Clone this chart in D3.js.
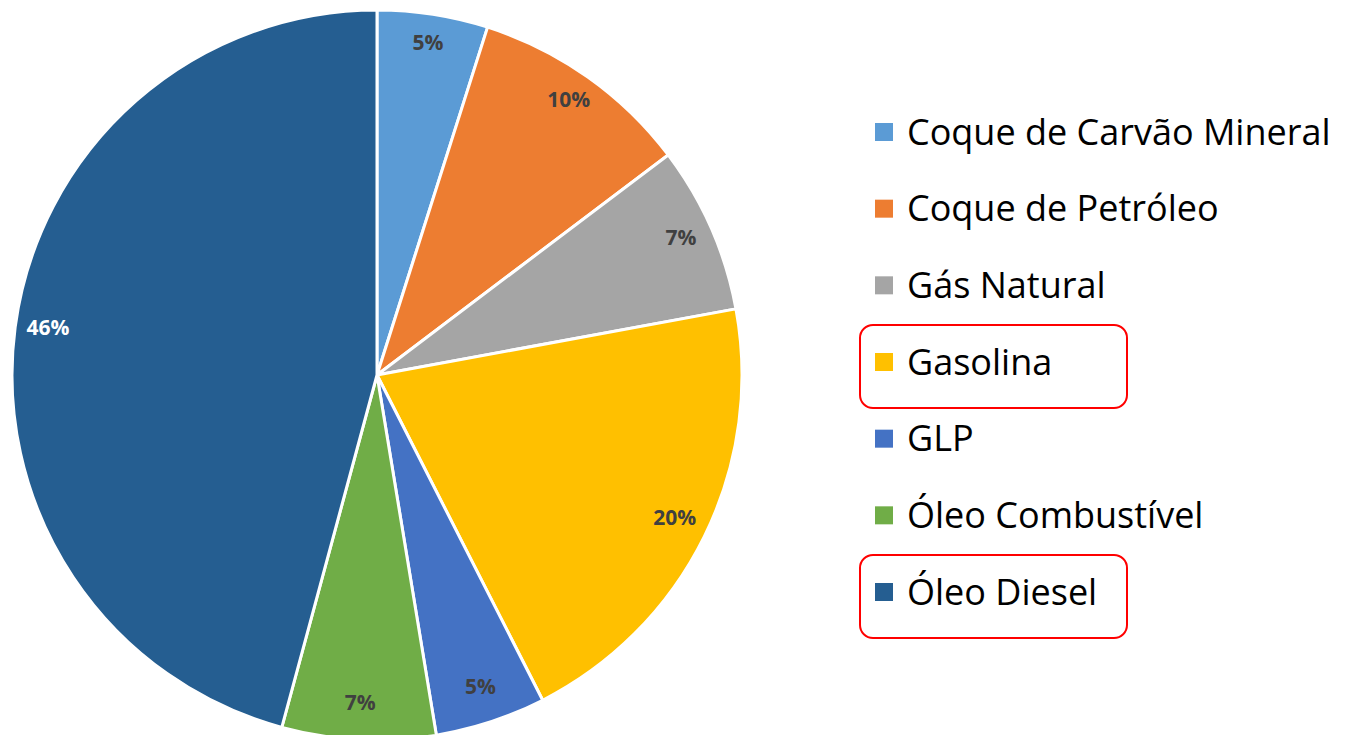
<!DOCTYPE html>
<html lang="pt">
<head>
    <meta charset="UTF-8">
    <title>Pie</title>
    <script src="https://cdn.jsdelivr.net/npm/d3@7"></script>
    <style>
        body { margin: 0; background: #fff; }
    </style>
</head>
<body>
    <script>
        const width = 1348;
        const height = 735;

        // data
        const categories = ['Coque de Carvão Mineral', 'Coque de Petróleo', 'Gás Natural', 'Gasolina', 'GLP', 'Óleo Combustível', 'Óleo Diesel'];
        const values = [4.9, 9.8, 7.4, 20.4, 4.9, 6.8, 45.8];
        const colors = ['#5B9BD5', '#ED7D31', '#A5A5A5', '#FFC000', '#4472C4', '#70AD47', '#255E91'];
        const labelColors = ['#404040', '#404040', '#404040', '#404040', '#404040', '#404040', '#ffffff'];
        const highlighted = ['Gasolina', 'Óleo Diesel'];

        const cx = 377, cy = 375, radius = 365;

        const svg = d3.select('body')
                      .append('svg')
                      .attr('width', width)
                      .attr('height', height);

        const total = d3.sum(values);
        const dataset = categories.map(function(c, i){
            return {name: c, value: values[i], color: colors[i], lc: labelColors[i]};
        });

        const pie = d3.pie().sort(null).value(function(d){ return d.value; });
        const arc = d3.arc().innerRadius(0).outerRadius(radius);
        const labelArc = d3.arc().innerRadius(332).outerRadius(332);

        const g = svg.append('g').attr('transform', 'translate(' + cx + ',' + cy + ')');
        const arcs = pie(dataset);

        g.selectAll('.slice')
            .data(arcs)
            .enter()
            .append('path')
            .attr('class', 'slice')
            .attr('d', arc)
            .attr('fill', function(d){ return d.data.color; })
            .attr('stroke', '#fff')
            .attr('stroke-width', 3)
            .attr('stroke-linejoin', 'round');

        g.selectAll('.lbl')
            .data(arcs)
            .enter()
            .append('text')
            .attr('class', 'lbl')
            .attr('transform', function(d){
                const p = labelArc.centroid(d);
                return 'translate(' + p[0] + ',' + (p[1] - 4) + ')';
            })
            .attr('text-anchor', 'middle')
            .attr('dy', '0.35em')
            .attr('font-family', 'Open Sans, sans-serif')
            .attr('font-weight', 'bold')
            .attr('font-size', 21)
            .attr('fill', function(d){ return d.data.lc; })
            .text(function(d){ return Math.round(d.data.value / total * 100) + '%'; });

        // legend
        const legendY = d3.scalePoint().domain(categories).range([132, 592]);
        const legend = svg.append('g');

        legend.selectAll('.hl')
            .data(highlighted)
            .enter()
            .append('rect')
            .attr('class', 'hl')
            .attr('x', 860)
            .attr('y', function(d){ return legendY(d) - 37; })
            .attr('width', 267)
            .attr('height', 83)
            .attr('rx', 13)
            .attr('fill', 'none')
            .attr('stroke', '#FF0000')
            .attr('stroke-width', 2);

        const items = legend.selectAll('.item')
            .data(dataset)
            .enter()
            .append('g')
            .attr('class', 'item')
            .attr('transform', function(d){ return 'translate(875,' + legendY(d.name) + ')'; });

        items.append('rect')
            .attr('x', 0)
            .attr('y', -9)
            .attr('width', 18)
            .attr('height', 18)
            .attr('fill', function(d){ return d.color; });

        items.append('text')
            .attr('x', 32)
            .attr('dy', '0.35em')
            .attr('font-family', 'Open Sans, sans-serif')
            .attr('font-size', 36)
            .attr('fill', '#000')
            .text(function(d){ return d.name; });
    </script>
</body>
</html>
